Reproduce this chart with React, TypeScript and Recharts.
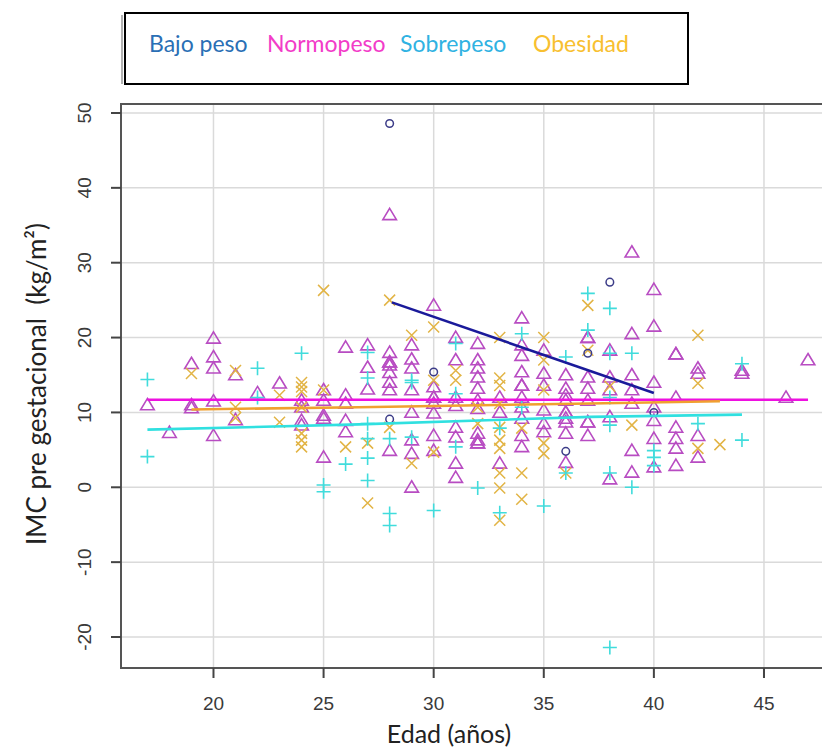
import { CartesianGrid, ReferenceArea, Scatter, ScatterChart, XAxis, YAxis } from "recharts";

// edad (años), IMC pre gestacional
const bajoPeso: [number, number][] = [
  [28, 48.6], [28, 9.1], [30, 15.4], [36, 4.8], [37, 17.9], [38, 27.4], [40, 10.0],
];

const normopeso: [number, number][] = [
  [17, 11.0], [18, 7.3],
  [19, 16.5], [19, 11.0], [19, 10.6],
  [20, 19.9], [20, 17.4], [20, 15.9], [20, 11.5], [20, 6.9],
  [21, 15.0], [21, 9.0], [22, 12.6], [23, 13.9],
  [24, 11.6], [24, 10.7], [24, 8.9], [24, 8.3],
  [25, 13.0], [25, 11.6], [25, 9.6], [25, 9.2], [25, 4.0],
  [26, 18.7], [26, 12.3], [26, 11.2], [26, 8.9], [26, 7.4],
  [27, 19.0], [27, 16.0], [27, 13.1],
  [28, 36.4], [28, 18.0], [28, 16.7], [28, 16.7], [28, 16.3], [28, 15.3], [28, 14.0], [28, 13.0], [28, 4.9],
  [29, 19.0], [29, 17.1], [29, 15.9], [29, 13.0], [29, 10.0], [29, 6.3], [29, 4.5], [29, 0.0],
  [30, 24.3], [30, 13.4], [30, 12.0], [30, 12.0], [30, 11.2], [30, 9.9], [30, 6.9], [30, 4.9],
  [31, 20.0], [31, 17.0], [31, 12.0], [31, 10.9], [31, 8.0], [31, 6.7], [31, 3.2], [31, 1.3],
  [32, 19.2], [32, 17.0], [32, 15.9], [32, 14.7], [32, 13.2], [32, 11.6], [32, 10.5], [32, 7.2], [32, 6.3], [32, 5.9], [32, 5.9],
  [33, 12.0], [33, 10.0], [33, 3.2],
  [34, 22.6], [34, 19.0], [34, 17.6], [34, 15.4], [34, 13.6], [34, 13.6], [34, 12.0], [34, 10.7], [34, 9.2], [34, 6.9], [34, 5.4],
  [35, 18.3], [35, 15.2], [35, 13.6], [35, 10.3], [35, 8.5], [35, 7.4],
  [36, 15.0], [36, 13.2], [36, 12.3], [36, 11.6], [36, 10.0], [36, 10.0], [36, 9.2], [36, 8.7], [36, 7.2], [36, 3.3],
  [37, 20.0], [37, 20.0], [37, 14.7], [37, 13.2], [37, 11.6], [37, 8.7], [37, 8.7], [37, 6.9],
  [38, 18.3], [38, 14.7], [38, 13.0], [38, 9.4], [38, 1.1],
  [39, 31.4], [39, 20.5], [39, 15.0], [39, 13.0], [39, 11.2], [39, 4.9], [39, 2.0],
  [40, 26.4], [40, 21.5], [40, 14.0], [40, 10.7], [40, 8.9], [40, 6.5], [40, 2.7],
  [41, 17.8], [41, 17.8], [41, 12.0], [41, 8.0], [41, 6.5], [41, 5.2], [41, 2.9],
  [42, 15.9], [42, 15.2], [42, 6.9], [42, 4.0],
  [44, 15.6], [44, 15.2], [46, 12.0], [47, 17.0],
];

const sobrepeso: [number, number][] = [
  [17, 14.4], [17, 4.1], [22, 15.9], [22, 12.0], [24, 17.9],
  [25, 0.3], [25, -0.6], [26, 3.1],
  [27, 18.0], [27, 14.6], [27, 8.5], [27, 6.5], [27, 3.9], [27, 0.9],
  [28, 6.5], [28, -3.5], [28, -5.1],
  [29, 14.3], [29, 14.0], [29, 6.7], [30, -3.1],
  [31, 19.2], [31, 12.5], [31, 5.4], [32, -0.1],
  [33, 7.9], [33, -3.4], [34, 20.5], [34, 10.7], [35, -2.5],
  [36, 17.4], [36, 1.9], [37, 25.9], [37, 21.0],
  [38, 23.9], [38, 17.9], [38, 12.0], [38, 8.3], [38, 1.9], [38, -21.4],
  [39, 17.9], [39, 0.0], [40, 4.9], [40, 4.0], [40, 2.9],
  [42, 8.5], [44, 16.5], [44, 6.3],
];

const obesidad: [number, number][] = [
  [19, 15.2], [21, 15.6], [21, 10.7], [21, 9.3], [23, 12.3], [23, 8.7],
  [24, 14.0], [24, 13.4], [24, 12.8], [24, 10.7], [24, 7.2], [24, 6.3], [24, 5.4],
  [25, 26.3], [25, 13.0], [26, 5.4], [27, 5.9], [27, -2.1],
  [28, 25.0], [28, 8.0], [29, 20.3], [29, 3.2],
  [30, 21.4], [30, 14.3], [30, 4.7], [31, 15.6], [31, 14.3],
  [32, 10.7], [32, 8.5],
  [33, 20.0], [33, 14.6], [33, 13.6], [33, 11.2], [33, 8.0], [33, 6.3], [33, 5.2], [33, 1.9], [33, -0.1], [33, -4.4],
  [34, 7.9], [34, 1.9], [34, -1.6],
  [35, 20.0], [35, 17.0], [35, 13.0], [35, 5.9], [35, 4.5],
  [36, 1.9], [37, 24.3], [37, 18.3], [38, 13.5], [39, 8.3],
  [42, 20.3], [42, 13.9], [42, 5.2], [43, 5.7],
];

// rectas de ajuste por grupo
const ajusteBajo: [number, number][] = [[28.1, 24.7], [40, 12.6]];
const ajusteNormo: [number, number][] = [[17, 11.7], [47, 11.7]];
const ajusteSobre: [number, number][] = [[17, 7.7], [26.6, 8.4], [37.1, 9.4], [44, 9.7]];
const ajusteObes: [number, number][] = [[19, 10.4], [26.6, 10.7], [37.1, 11.2], [43, 11.5]];

const xTicks = [20, 25, 30, 35, 40, 45];
const yTicks = [-20, -10, 0, 10, 20, 30, 40, 50];
const xDomain: [number, number] = [15.8, 48.18];
const yDomain: [number, number] = [-24.14, 51.2];

const legendItems = [
  { label: "Bajo peso", color: "#2A6FB5", x: 149 },
  { label: "Normopeso", color: "#F23CC8", x: 267 },
  { label: "Sobrepeso", color: "#30B2E2", x: 400 },
  { label: "Obesidad", color: "#F8C030", x: 533 },
];

const toPts = (rows: [number, number][]) => rows.map(([x, y]) => ({ x, y }));

const Triangle = ({ cx, cy }: any) => (
  <path d={`M${cx},${cy - 6.5} L${cx + 6.8},${cy + 4.8} L${cx - 6.8},${cy + 4.8} Z`} fill="none" stroke="#B84CC2" strokeWidth={1.6} />
);
const Circle = ({ cx, cy }: any) => <circle cx={cx} cy={cy} r={3.8} fill="none" stroke="#3C3C88" strokeWidth={1.5} />;
const Plus = ({ cx, cy }: any) => (
  <path d={`M${cx - 7},${cy} H${cx + 7} M${cx},${cy - 7} V${cy + 7}`} stroke="#40DCDC" strokeWidth={1.6} />
);
const Cross = ({ cx, cy }: any) => (
  <path d={`M${cx - 5.5},${cy - 5.5} L${cx + 5.5},${cy + 5.5} M${cx - 5.5},${cy + 5.5} L${cx + 5.5},${cy - 5.5}`} stroke="#E2B445" strokeWidth={1.5} />
);
const NoDot = () => <g />;

const tickFont = { fontFamily: "'Liberation Sans', Arial, sans-serif", fontSize: 19, fill: "#3a3a3a" };

const XTick = (p: any) => (
  <text x={p.x} y={p.y + 23} textAnchor="middle" dominantBaseline="central" {...tickFont}>
    {p.payload.value}
  </text>
);
const YTick = (p: any) => (
  <text x={p.x - 24} y={p.y} transform={`rotate(-90, ${p.x - 24}, ${p.y})`} textAnchor="middle" dominantBaseline="central" {...tickFont}>
    {p.payload.value}
  </text>
);

export default function App() {
  return (
    <div style={{ position: "fixed", left: 0, top: 0, width: 822, height: 751, overflow: "hidden", background: "#fff" }}>
      <ScatterChart width={850} height={751} margin={{ top: 104, right: 16, bottom: 0, left: 0 }}>
        <CartesianGrid stroke="#DADADA" strokeWidth={1.5} />
        <XAxis type="number" dataKey="x" domain={xDomain} ticks={xTicks} allowDataOverflow height={83} axisLine={false} tickSize={10} tickLine={{ stroke: "#444", strokeWidth: 2 }} tick={XTick} />
        <YAxis type="number" dataKey="y" domain={yDomain} ticks={yTicks} allowDataOverflow width={121} axisLine={false} tickSize={10} tickLine={{ stroke: "#444", strokeWidth: 2 }} tick={YTick} />
        <ReferenceArea x1={xDomain[0]} x2={xDomain[1]} y1={yDomain[0]} y2={yDomain[1]} fill="none" stroke="#555" strokeWidth={2} fillOpacity={0} />
        <Scatter data={toPts(normopeso)} shape={Triangle} isAnimationActive={false} />
        <Scatter data={toPts(obesidad)} shape={Cross} isAnimationActive={false} />
        <Scatter data={toPts(sobrepeso)} shape={Plus} isAnimationActive={false} />
        <Scatter data={toPts(bajoPeso)} shape={Circle} isAnimationActive={false} />
        <Scatter data={toPts(ajusteSobre)} shape={NoDot} line={{ stroke: "#30E0E0", strokeWidth: 2.6 }} isAnimationActive={false} />
        <Scatter data={toPts(ajusteNormo)} shape={NoDot} line={{ stroke: "#EE10E0", strokeWidth: 2.6 }} isAnimationActive={false} />
        <Scatter data={toPts(ajusteObes)} shape={NoDot} line={{ stroke: "#F0A030", strokeWidth: 2.6 }} isAnimationActive={false} />
        <Scatter data={toPts(ajusteBajo)} shape={NoDot} line={{ stroke: "#1A1A9A", strokeWidth: 2.6 }} isAnimationActive={false} />
      </ScatterChart>
      <svg width={822} height={751} style={{ position: "absolute", left: 0, top: 0, pointerEvents: "none" }}>
        <line x1={122} y1={15} x2={122} y2={84} stroke="#999" strokeWidth={1.5} />
        <rect x={125} y={13} width={563} height={71} fill="none" stroke="#000" strokeWidth={2} />
        {legendItems.map((it) => (
          <text key={it.label} x={it.x} y={43} dominantBaseline="central" fill={it.color} fontFamily="Lato, sans-serif" fontSize={23}>
            {it.label}
          </text>
        ))}
        <text x={449} y={733} textAnchor="middle" dominantBaseline="central" fill="#222" fontFamily="Lato, sans-serif" fontSize={25}>
          Edad (años)
        </text>
        <text x={36} y={384} transform="rotate(-90, 36, 384)" textAnchor="middle" dominantBaseline="central" fill="#222" fontFamily="Lato, sans-serif" fontSize={26}>
          {"IMC pre gestacional\u00A0 (kg/m²)"}
        </text>
      </svg>
    </div>
  );
}
